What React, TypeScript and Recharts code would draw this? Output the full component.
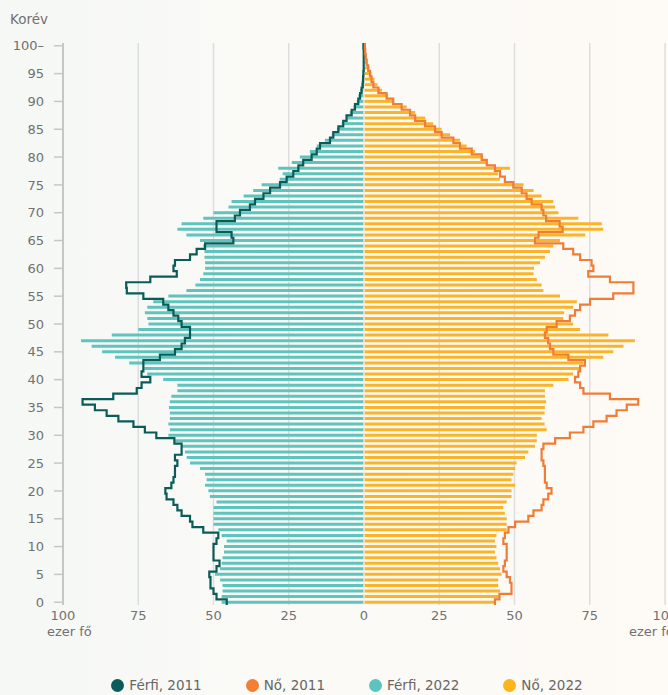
import React from 'react'
import { ComposedChart, Bar, Line, XAxis, YAxis, CartesianGrid, ReferenceLine } from 'recharts'

// age groups 0..100 (100 = "100 and over")
const ages = Array.from({ length: 101 }, (_, i) => i)

// thousand persons, index = age
const male2022 = [
  47.3, 47.3, 47, 47, 47.8, 49.5, 47.8, 47.3, 47, 46.5,
  46.5, 45.6, 47.3, 48.4, 50, 50, 50, 50, 49, 51.2,
  51.7, 52.8, 52.3, 52.8, 54.5, 57.8, 58.9, 59.5, 60.6, 63,
  65, 64.5, 65, 64.5, 64.5, 64.8, 64.5, 64, 62, 62,
  66.7, 72, 73, 78, 82.7, 87, 90.5, 94, 83.8, 75,
  71.6, 72, 72.8, 72, 70, 65, 59, 56, 54.5, 53.4,
  52.8, 52.8, 53, 53, 53.4, 54.5, 59, 62, 60.6, 53.4,
  50, 45, 44, 40, 36.8, 34, 28, 27, 28.5, 24,
  21.3, 18, 15.7, 13, 10.7, 9, 7.4, 5.8, 4.7, 3.5,
  2.4, 1.9, 1.3, 1, 0.7, 0.4, 0.3, 0.2, 0.1, 0.1,
  0.2,
]

const female2022 = [
  43.5, 45.2, 45.2, 44.6, 44.6, 45.7, 45.2, 44.6, 44, 43.5,
  44, 43.5, 44, 47.4, 47.4, 47.4, 46.8, 46.3, 47.4, 49,
  49, 50.2, 49, 49.6, 50.2, 50.7, 53.5, 54.6, 56.8, 57.4,
  57.4, 60.7, 60, 59, 60, 60.1, 60.5, 60.1, 60.1, 62.9,
  67.9, 69.5, 71.8, 72.9, 79.5, 82.8, 86.2, 90, 81.2, 71.8,
  69.5, 66.2, 66.5, 69.5, 70.7, 65.1, 59.6, 59, 57.4, 56.3,
  56.5, 58.5, 60.1, 61.8, 62.9, 65.1, 73.5, 79.5, 79, 71.2,
  64.6, 63.5, 62.9, 59, 56.3, 53, 45.2, 44.6, 48.5, 40.8,
  39.6, 36.9, 34.1, 31.9, 28.6, 25.8, 23, 20.3, 17, 14.2,
  10, 8, 6, 4.5, 3.5, 2.5, 1.8, 1.1, 0.7, 0.3,
  0.2,
]

const male2011 = [
  45.6, 49, 50, 51, 51, 51.4, 49, 48, 50, 50,
  50, 49, 48.4, 53.4, 57, 57.8, 60.6, 62, 63.3, 65.6,
  66, 64, 63.3, 62.8, 62.8, 62, 62.8, 60.6, 60.6, 63,
  69, 72.8, 76.6, 81.6, 85.5, 89.4, 93.5, 83.3, 75.5, 73.9,
  71, 73.9, 73.3, 73.3, 67.8, 62.8, 60.6, 59.5, 57.8, 57.8,
  60.6, 61.7, 63.3, 65, 66.7, 73.3, 78.8, 79, 71, 62.2,
  63.3, 62.8, 57.8, 55.6, 52.8, 43.4, 44, 49, 49, 42.9,
  41.2, 37.9, 36.2, 33.4, 31.2, 27.9, 25.7, 23.5, 21.8, 20.2,
  17.4, 15.7, 14.6, 11.3, 10.2, 8.5, 6.9, 5.8, 4.1, 3,
  1.9, 1.3, 0.8, 0.4, 0.3, 0.2, 0.1, 0.1, 0.1, 0.1,
  0.2,
]

const female2011 = [
  43.5, 45, 49, 49, 48.5, 47.4, 46.3, 46.8, 47.4, 47.4,
  47.4, 46.3, 46.8, 48, 50.2, 54.6, 56.3, 59, 59.6, 61.2,
  62.3, 60.7, 60.1, 60.1, 60.1, 59.6, 59, 59, 59.6, 63.5,
  68.4, 72.9, 76.2, 80.6, 83.9, 87.3, 91.1, 81.7, 72.9, 71.8,
  70.1, 71.2, 71.8, 73.4, 67.9, 62.9, 61.8, 61.2, 60.1, 60.7,
  64, 68.4, 70.1, 71.8, 75.1, 82.8, 89.5, 89.5, 81.7, 74.5,
  76.2, 75.6, 71.8, 69.5, 66.2, 56.8, 58, 66, 65, 60.5,
  59.6, 59, 55.7, 54, 52.4, 49.6, 46.8, 45.2, 43.5, 40.8,
  39.1, 35.8, 31.9, 29.7, 25.8, 23.6, 20.3, 17, 15.3, 12.5,
  9.7, 7.5, 4.8, 3.1, 2.5, 2, 1.4, 0.9, 0.6, 0.4,
  0.3,
]

const xTicks = [-100, -75, -50, -25, 0, 25, 50, 75, 100]

const legendItems = [
  { label: 'Férfi, 2011', color: '#0c5b58' },
  { label: 'Nő, 2011', color: '#f47f34' },
  { label: 'Férfi, 2022', color: '#5cc4be' },
  { label: 'Nő, 2022', color: '#fcb51c' },
]

const data = ages.map((age, i) => ({
  age,
  m22: -male2022[i],
  f22: female2022[i],
  m11: -male2011[i],
  f11: female2011[i],
}))

// vertical step: each point gets a vertical run over its age band
const stepVertical = (context: any) => {
  let pts: [number, number][] = []
  return {
    areaStart() {},
    areaEnd() {},
    lineStart() {
      pts = []
    },
    lineEnd() {
      if (!pts.length) return
      const half = pts.length > 1 ? (pts[1][1] - pts[0][1]) / 2 : 0
      pts.forEach(([x, y], i) => {
        if (i === 0) context.moveTo(x, y - half)
        else context.lineTo(x, y - half)
        context.lineTo(x, y + half)
      })
    },
    point(x: number, y: number) {
      pts.push([x, +y])
    },
  }
}

const TEXT = '#717171'
const FONT = '"DejaVu Sans", "Liberation Sans", sans-serif'

const XTick = (props: any) => {
  const { x, y, payload } = props
  const v = payload.value
  return (
    <g>
      <text x={x} y={y + 15} textAnchor="middle" fill={TEXT} fontSize={13}>
        {Math.abs(v)}
      </text>
      {Math.abs(v) === 100 && (
        <text x={v < 0 ? x - 16 : x - 36} y={y + 31} textAnchor="start" fill={TEXT} fontSize={13}>
          ezer fő
        </text>
      )}
    </g>
  )
}

export default function App() {
  return (
    <div
      style={{
        position: 'fixed',
        left: 0,
        top: 0,
        width: 668,
        height: 695,
        overflow: 'hidden',
        fontFamily: FONT,
        background: 'linear-gradient(90deg, #f5f8f5 0%, #fbfaf7 45%, #fefaf6 100%)',
      }}
    >
      <div style={{ position: 'absolute', left: 10, top: 11, fontSize: 13.5, color: TEXT }}>Korév</div>
      <ComposedChart
        width={700}
        height={650}
        data={data}
        layout="vertical"
        stackOffset="sign"
        barCategoryGap="22%"
        margin={{ top: 43, right: 35, left: 8, bottom: 15 }}
      >
        <CartesianGrid horizontal={false} stroke="#dedede" strokeWidth={1.5} />
        <XAxis
          type="number"
          domain={[-100, 100]}
          ticks={xTicks}
          interval={0}
          axisLine={false}
          tickLine={false}
          tickSize={0}
          tickMargin={0}
          height={30}
          tick={<XTick />}
        />
        <YAxis
          type="category"
          dataKey="age"
          reversed
          interval={4}
          width={55}
          axisLine={{ stroke: '#c6c6c6', strokeWidth: 2 }}
          tickLine={{ stroke: '#c6c6c6', strokeWidth: 1.5 }}
          tickSize={9}
          tickMargin={10}
          tick={{ fill: TEXT, fontSize: 13 }}
          tickFormatter={(v: number) => (v === 100 ? '100–' : String(v))}
        />
        <Bar dataKey="m22" stackId="p" fill="#5fc4bd" isAnimationActive={false} />
        <Bar dataKey="f22" stackId="p" fill="#fbb42a" isAnimationActive={false} />
        <ReferenceLine x={0} stroke="#fdf7e6" strokeWidth={1.2} />
        <Line
          dataKey="m11"
          type={stepVertical as any}
          stroke="#0a5c58"
          strokeWidth={2.2}
          dot={false}
          activeDot={false}
          isAnimationActive={false}
        />
        <Line
          dataKey="f11"
          type={stepVertical as any}
          stroke="#f07d36"
          strokeWidth={2.2}
          dot={false}
          activeDot={false}
          isAnimationActive={false}
        />
      </ComposedChart>
      <div
        style={{
          position: 'absolute',
          left: -3,
          width: 700,
          top: 677,
          display: 'flex',
          justifyContent: 'center',
          gap: 44,
          fontSize: 13.5,
          color: '#666',
        }}
      >
        {legendItems.map((item) => (
          <div key={item.label} style={{ display: 'flex', alignItems: 'center', gap: 5 }}>
            <span
              style={{ width: 13, height: 13, borderRadius: '50%', background: item.color, display: 'inline-block' }}
            />
            <span>{item.label}</span>
          </div>
        ))}
      </div>
    </div>
  )
}
